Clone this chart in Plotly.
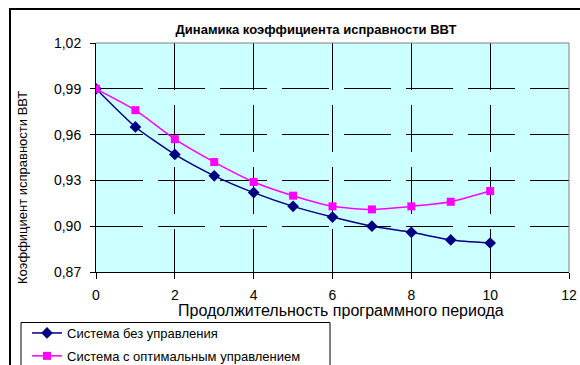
import plotly.graph_objects as go

periods = [0, 1, 2, 3, 4, 5, 6, 7, 8, 9, 10]
no_control = [0.990, 0.965, 0.947, 0.933, 0.922, 0.913, 0.906, 0.900, 0.896, 0.891, 0.889]
optimal_control = [0.990, 0.976, 0.957, 0.942, 0.929, 0.920, 0.913, 0.911, 0.913, 0.916, 0.923]

title_text = "Динамика коэффициента исправности ВВТ"
x_title = "Продолжительность программного периода"
y_title = "Коэффициент исправности ВВТ"
name_a = "Система без управления"
name_b = "Система с оптимальным управлением"

FONT = "Arial, Liberation Sans, sans-serif"

fig = go.Figure()
fig.add_trace(go.Scatter(
    x=periods, y=no_control, name=name_a, mode="lines+markers", legendgroup="a",
    line=dict(color="#000080", width=1.5, shape="spline", smoothing=0.6),
    marker=dict(symbol="diamond", size=9, color="#000080"),
))
fig.add_trace(go.Scatter(
    x=periods, y=optimal_control, name=name_b, mode="lines+markers", legendgroup="b",
    line=dict(color="#FF00FF", width=1.5, shape="spline", smoothing=0.6),
    marker=dict(symbol="square", size=8, color="#FF00FF"),
))

W, H = 580, 365
pw, ph = 473, 229
L, T = 96, 43
R, B = W - L - pw, H - T - ph


def px_x(x):
    return (x - L) / pw


def px_y(y):
    return (T + ph - y) / ph


fig.update_layout(
    width=W, height=H,
    margin=dict(l=L, r=R, t=T, b=B, autoexpand=False),
    paper_bgcolor="white",
    plot_bgcolor="#CCFFFF",
    separators=", ",
    font=dict(family=FONT, color="black"),
    title=dict(text="<b>" + title_text + "</b>", x=316 / W, xanchor="center",
               y=1 - 29 / H, yanchor="middle", font=dict(size=13, family=FONT)),
    xaxis=dict(
        range=[0, 12], dtick=2, tick0=0,
        showline=True, linecolor="black", linewidth=1,
        ticks="outside", ticklen=6, tickcolor="black",
        showgrid=True, gridcolor="black", gridwidth=1, griddash="47px,15px",
        zeroline=False, tickfont=dict(size=14),
        ticklabelstandoff=4,
    ),
    yaxis=dict(
        range=[0.87, 1.02], dtick=0.03, tick0=0.87, tickformat=".2f",
        showline=True, linecolor="black", linewidth=1,
        ticks="outside", ticklen=5, tickcolor="black",
        showgrid=True, gridcolor="black", gridwidth=1, griddash="47px,15px",
        zeroline=False, tickfont=dict(size=14),
        ticklabelstandoff=6,
    ),
    legend=dict(
        x=px_x(27), y=px_y(318), xanchor="left", yanchor="top",
        borderwidth=0, bgcolor="rgba(0,0,0,0)",
        font=dict(size=13, family=FONT),
        traceorder="grouped", tracegroupgap=3, itemwidth=30,
    ),
    showlegend=True,
)

# axis titles
fig.add_annotation(text=x_title, xref="paper", yref="paper",
                   x=px_x(341), y=px_y(310), xanchor="center", yanchor="middle",
                   showarrow=False, font=dict(size=16, family=FONT))
fig.add_annotation(text=y_title, xref="paper", yref="paper", textangle=-90,
                   x=px_x(22), y=px_y(188), xanchor="center", yanchor="middle",
                   showarrow=False, font=dict(size=13, family=FONT))

# plot area top / right borders (gray)
fig.add_shape(type="line", xref="paper", yref="paper", x0=0, x1=1, y0=1, y1=1,
              line=dict(color="#808080", width=1))
fig.add_shape(type="line", xref="paper", yref="paper", x0=1, x1=1, y0=0, y1=1,
              line=dict(color="#808080", width=1))
# chart area border
fig.add_shape(type="rect", xref="paper", yref="paper",
              x0=px_x(10), x1=px_x(600),
              y0=px_y(400), y1=px_y(9),
              line=dict(color="black", width=2), layer="below")
# legend frame
fig.add_shape(type="rect", xref="paper", yref="paper",
              x0=px_x(21), x1=px_x(330),
              y0=px_y(400), y1=px_y(322.5),
              line=dict(color="black", width=1), layer="below")

fig.write_html(
    "out.html",
    config={"displayModeBar": False},
    post_script="document.body.style.margin='0';document.body.style.overflow='hidden';",
)
